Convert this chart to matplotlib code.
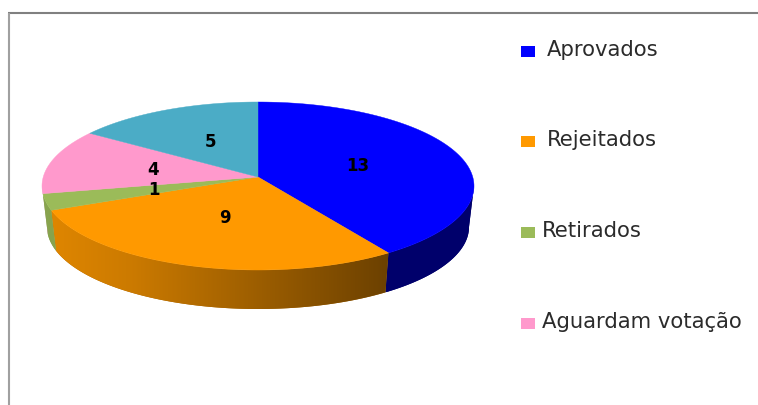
import numpy as np
import matplotlib
matplotlib.use("Agg")
import matplotlib.pyplot as plt
from matplotlib.patches import Polygon

# data
legend_labels = ["Aprovados", "Rejeitados", "Retirados", "Aguardam votação"]
values = [13, 9, 1, 4, 5]
colors = ["#0000FF", "#FF9900", "#9BBB59", "#FF99CC", "#4BACC6"]

# layout (pixel space)
CX, CY, RX, RY = 258, 186, 216, 84
BCY, BRX, BRY = 227, 211, 82
APEX_Y = 177
label_xy = [(358, 166), (225, 218), (154, 190), (153, 170), (210, 142)]
legend_box_x = (521, 535)
legend_y = [51, 141, 232, 323]
legend_text_x = [547, 547, 542, 542]

fig = plt.figure(figsize=(7.58, 4.05), dpi=100, facecolor="white")
ax = fig.add_axes([0, 0, 1, 1])
ax.axis("off")


def rim_angle(theta):
    """Perspective: slice angle seen from the apex -> angle on the rim ellipse."""
    py = (APEX_Y - CY) / RY
    dx, dy = np.sin(theta), -np.cos(theta)
    pd = py * dy
    t = -pd + np.sqrt(pd ** 2 - (py ** 2 - 1))
    qx, qy = t * dx, py + t * dy
    return np.arctan2(qx, -qy) % (2 * np.pi)


def top_pt(phi):
    return CX + RX * np.sin(phi), CY - RY * np.cos(phi)


def bot_pt(phi):
    return CX + BRX * np.sin(phi), BCY - BRY * np.cos(phi)


def shade(x):
    return np.interp(x, [45, 130, 390, 480], [0.88, 0.80, 0.42, 0.42])


cum = np.cumsum([0] + values) / sum(values) * 2 * np.pi
rims = [rim_angle(a) for a in cum[:-1]] + [2 * np.pi]

# side wall: a horizontal gradient clipped to each slice's wall
for i, col in enumerate(colors):
    lo, hi = max(rims[i], np.pi / 2), min(rims[i + 1], 3 * np.pi / 2)
    if hi <= lo:
        continue
    phis = np.linspace(lo, hi, 150)
    tx, ty = top_pt(phis)
    bx, by = bot_pt(phis)
    xy = np.c_[np.r_[tx, bx[::-1]], np.r_[ty, by[::-1]]]
    x0, x1 = xy[:, 0].min(), xy[:, 0].max()
    y0, y1 = xy[:, 1].min(), xy[:, 1].max()
    rgb = np.array(matplotlib.colors.to_rgb(col))
    gx = np.linspace(x0, x1, 256)
    grad = rgb[None, None, :] * shade(gx)[None, :, None]
    base = Polygon(xy, closed=True, facecolor=rgb * shade((x0 + x1) / 2), lw=0, zorder=1.9)
    ax.add_patch(base)
    clip = Polygon(xy, closed=True, facecolor="none", lw=0, transform=ax.transData)
    ax.add_patch(clip)
    im = ax.imshow(grad, extent=(x0, x1, y1, y0), aspect="auto", zorder=2,
                   interpolation="bilinear")
    im.set_clip_path(clip)

ax.set_xlim(0, 758)
ax.set_ylim(405, 0)

# top face
for i, col in enumerate(colors):
    phis = np.linspace(rims[i], rims[i + 1], 120)
    xs, ys = top_pt(phis)
    ax.fill(np.r_[CX, xs], np.r_[APEX_Y, ys], color=col, lw=0.3, zorder=3)

# value labels
for v, (x, y) in zip(values, label_xy):
    ax.text(x, y, str(v), ha="center", va="center", fontsize=12, color="black",
            family="DejaVu Sans", fontweight="bold", zorder=5)

# legend
for lab, col, y, tx in zip(legend_labels, colors, legend_y, legend_text_x):
    ax.fill([legend_box_x[0], legend_box_x[1], legend_box_x[1], legend_box_x[0]],
            [y - 5.5, y - 5.5, y + 5.5, y + 5.5], color=col, lw=0, zorder=3)
    ax.text(tx, y - 1, lab, ha="left", va="center", fontsize=15.2, color="#2b2b2b",
            family="DejaVu Sans", zorder=5)

# frame
ax.plot([8, 758], [13, 13], color="#808080", lw=1.5, solid_capstyle="butt")
ax.plot([8.5, 8.5], [13, 405], color="#A0A0A0", lw=1.5, solid_capstyle="butt")

fig.savefig("out.png", dpi=100)
